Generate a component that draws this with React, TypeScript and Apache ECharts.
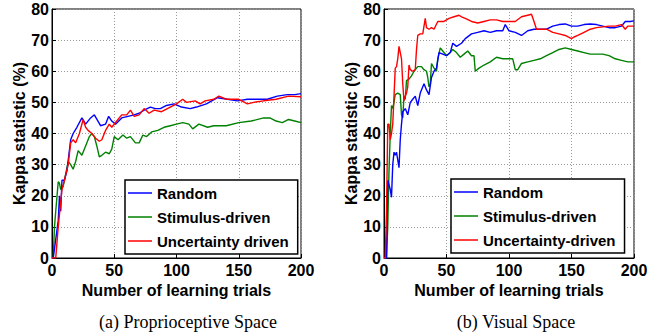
import React, { useEffect, useRef } from "react";
import * as echarts from "echarts";

// ---------- (a) Proprioceptive Space ----------
const propRandomX = [0, 1, 3, 5, 6, 7, 8, 10, 12, 15, 17, 20, 24, 27, 31, 34, 39, 43, 45.5, 48, 51, 56, 61, 66, 70, 74, 79, 83, 87, 92, 98, 104, 111, 116, 124, 133, 141, 149, 157, 165, 173, 181, 189, 195, 200];
const propRandomY = [0, 0, 6, 12, 20, 15, 25, 25, 28, 38, 40, 42, 45, 43, 45, 46, 42.5, 43, 45.5, 44, 43, 45, 45.5, 46, 46.5, 47.5, 48.5, 48, 48, 49, 49.5, 48.5, 48, 48.5, 49.5, 51.5, 51, 50.5, 51, 51, 51, 52, 52.5, 52.5, 52.8];

const propStimX = [0, 1, 2, 3, 5, 6, 7, 9, 11, 13, 15, 17, 19, 21, 24, 27, 30, 32, 34, 36, 38, 40, 43, 46, 48, 50, 53, 57, 60, 63, 67, 70, 73, 76, 80, 85, 90, 95, 100, 105, 110, 113, 118, 125, 130, 140, 150, 160, 170, 175, 180, 185, 190, 195, 200];
const propStimY = [0, 0, 10, 15, 24.5, 24, 22, 23, 27, 31, 30, 28.5, 31, 34.5, 33, 36, 39, 40, 39, 36, 32.5, 33, 34, 33.5, 35, 39, 38, 39.5, 38.5, 39, 37, 37, 39.5, 39, 40.5, 41, 42, 42.5, 43, 43.5, 43, 41.5, 43, 42, 42.5, 42.5, 43.5, 44, 45, 45, 44, 43.5, 44.5, 44, 43.5];

const propUncX = [0, 3, 5, 8, 10, 13, 15, 17, 19, 22, 25, 27, 29, 32, 35, 38, 40, 43, 46, 48, 52, 56, 60, 63, 66, 70, 74, 78, 82, 88, 95, 100, 105, 108, 115, 119, 123, 130, 134, 140, 150, 157, 162, 170, 180, 190, 200];
const propUncY = [0, 0, 10, 22, 25, 30, 37, 38, 37, 40, 44.5, 42, 41, 40, 38.5, 37.5, 38, 41, 43, 42, 44, 46, 46, 47.5, 45.5, 46, 48, 46.5, 47.5, 47, 48.5, 49.5, 51, 50, 50.5, 49.5, 50.5, 51, 52, 51, 51, 49.5, 50, 50.5, 51, 52, 51.8];

// ---------- (b) Visual Space ----------
const visRandomX = [0, 2, 3, 5, 6, 7, 8, 9, 10, 12, 13, 14, 15, 17, 19, 21, 23, 25, 27, 29, 32, 34, 36, 38, 40, 42, 44, 47, 50, 53, 55, 58, 62, 65, 70, 75, 80, 85, 90, 95, 97, 100, 105, 110, 115, 120, 125, 130, 135, 140, 145, 150, 155, 160, 165, 170, 175, 180, 185, 190, 193, 197, 200];
const visRandomY = [0, 0, 25, 22, 19.5, 30, 34, 33, 34, 29, 38, 43, 47, 48, 46, 50, 51, 52, 49, 53, 56, 54, 52.5, 58, 60, 61, 66, 65.5, 65, 66, 69, 68, 69, 70.5, 72, 72.5, 73, 72.5, 73, 73, 75, 73, 72.5, 71.5, 73, 73.5, 73.5, 73.5, 74.5, 75, 75.2, 74.5, 74.5, 75, 75.2, 75, 74.5, 74, 74, 74.5, 76, 76, 76.2];

const visStimX = [0, 2, 3, 4, 5, 6, 7, 8, 9, 11, 13, 14, 15, 16, 17, 18, 20, 22, 24, 27, 30, 32, 34, 35, 36, 37, 38, 40, 42, 43, 45, 47, 50, 53, 55, 58, 61, 64, 67, 70, 72, 73, 76, 80, 85, 90, 95, 100, 103, 105, 107, 110, 115, 120, 125, 130, 135, 140, 145, 150, 155, 160, 165, 170, 175, 180, 185, 190, 195, 200];
const visStimY = [0, 0, 10, 28, 40, 49, 48, 50, 52.5, 53, 52.5, 46, 45, 52, 51, 57, 57.5, 58.5, 60, 61.5, 61.5, 60.5, 60, 58, 55, 56, 62.5, 61, 60, 64, 67.5, 66.5, 65, 66, 67, 66, 64.5, 65.5, 66.5, 65, 65, 60, 61, 62, 63, 64.5, 64, 64, 64, 60.5, 60.5, 62.5, 63, 63.5, 64, 65, 66, 67, 67.5, 67, 66.5, 66, 65.5, 65.5, 65.5, 65, 64, 63.5, 63, 63];

const visUncX = [0, 1, 2, 3, 4, 5, 6, 7, 8, 9, 10, 11, 12, 13, 14, 15, 16, 17, 18, 19, 20, 21, 23, 25, 26, 27, 29, 31, 33, 34, 36, 38, 40, 43, 46, 48, 52, 56, 60, 62, 65, 70, 75, 80, 85, 90, 95, 100, 105, 110, 115, 118, 120, 122, 125, 130, 135, 140, 145, 150, 152, 155, 160, 165, 170, 180, 185, 190, 193, 195, 200];
const visUncY = [0, 0, 15, 43, 43, 38, 40, 43, 52, 61, 61.5, 64, 68, 66, 64, 56, 50.5, 52, 53, 55, 62, 60.5, 60, 60.5, 67, 71.5, 72, 72, 77, 74, 73.5, 74, 73.5, 76, 76, 76, 77, 77.5, 78, 77.5, 77, 76, 75.5, 76, 76.5, 76.5, 76, 76, 76, 77.5, 78, 78.3, 76, 73.5, 73.5, 73.5, 72.5, 72, 71.5, 70.5, 71, 71.5, 72.5, 73.5, 74, 74.5, 74.5, 75, 73.5, 74.5, 74.5];

const xTicks = [0, 50, 100, 150, 200];
const yTicks = [0, 10, 20, 30, 40, 50, 60, 70, 80];
const seriesNames = ["Random", "Stimulus-driven", "Uncertainty driven"];
const seriesNamesB = ["Random", "Stimulus-driven", "Uncertainty-driven"];
const colors = ["#0000ff", "#008000", "#ff0000"];
const captions = ["(a) Proprioceptive Space", "(b) Visual Space"];

const zip = (xs: number[], ys: number[]) => xs.map((x, i) => [x, ys[i]]);

const FONT = "Liberation Sans";

export default function App() {
  const ref = useRef<HTMLDivElement>(null);
  useEffect(() => {
    if (!ref.current) return;
    const chart = echarts.init(ref.current, undefined, { renderer: "svg" });
    const grids = [
      { left: 52, top: 9, width: 249, height: 249 },
      { left: 384, top: 9, width: 250, height: 249 },
    ];
    const xAxes = grids.map((_, i) => ({
      type: "value",
      gridIndex: i,
      min: xTicks[0],
      max: xTicks[xTicks.length - 1],
      interval: 50,
      name: "Number of learning trials",
      nameLocation: "middle",
      nameGap: 19,
      nameTextStyle: { fontFamily: FONT, fontWeight: "bold", fontSize: 16, color: "#000" },
      axisLine: { show: true, lineStyle: { color: "#000", width: 1 } },
      axisTick: { show: true, inside: true, length: 4, lineStyle: { color: "#000" } },
      axisLabel: { fontFamily: FONT, fontWeight: "bold", fontSize: 16, color: "#000", margin: 4 },
      splitLine: { show: true, lineStyle: { color: "#9a9a9a", type: [1, 2], width: 1 } },
    }));
    const yAxes = grids.map((_, i) => ({
      type: "value",
      gridIndex: i,
      min: yTicks[0],
      max: yTicks[yTicks.length - 1],
      interval: 10,
      name: "Kappa statistic (%)",
      nameLocation: "middle",
      nameGap: 24,
      nameTextStyle: { fontFamily: FONT, fontWeight: "bold", fontSize: 16, color: "#000" },
      axisLine: { show: true, lineStyle: { color: "#000", width: 1 } },
      axisTick: { show: true, inside: true, length: 4, lineStyle: { color: "#000" } },
      axisLabel: { fontFamily: FONT, fontWeight: "bold", fontSize: 16, color: "#000", margin: 3 },
      splitLine: { show: true, lineStyle: { color: "#9a9a9a", type: [1, 2], width: 1 } },
    }));
    const mk = (name: string, data: number[][], gi: number, ci: number) => ({
      type: "line",
      name,
      data,
      xAxisIndex: gi,
      yAxisIndex: gi,
      symbol: "none",
      showSymbol: false,
      lineStyle: { color: colors[ci], width: 1.4 },
      itemStyle: { color: colors[ci] },
      z: ci === 0 ? 3 : ci === 1 ? 2 : 4,
    });
    const series = [
      mk(seriesNames[0], zip(propRandomX, propRandomY), 0, 0),
      mk(seriesNames[1], zip(propStimX, propStimY), 0, 1),
      mk(seriesNames[2], zip(propUncX, propUncY), 0, 2),
      mk(seriesNamesB[0] + " ", zip(visRandomX, visRandomY), 1, 0),
      mk(seriesNamesB[1] + " ", zip(visStimX, visStimY), 1, 1),
      mk(seriesNamesB[2], zip(visUncX, visUncY), 1, 2),
    ];
    const legendBase = {
      orient: "vertical",
      backgroundColor: "#fff",
      borderColor: "#000",
      borderWidth: 1.5,
      borderRadius: 0,
      padding: [4, 9, 4, 3],
      itemGap: 6,
      itemWidth: 24,
      itemHeight: 1.5,
      icon: "rect",
      textStyle: { fontFamily: FONT, fontWeight: "bold", fontSize: 15, color: "#000", lineHeight: 18 },
      selectedMode: false,
    };
    chart.setOption({
      animation: false,
      backgroundColor: "#fff",
      grid: grids.map((g) => ({ ...g, show: true, borderColor: "#000", borderWidth: 1, backgroundColor: "transparent" })),
      xAxis: xAxes,
      yAxis: yAxes,
      legend: [
        { ...legendBase, left: 125, top: 180, data: [seriesNames[0], seriesNames[1], seriesNames[2]] },
        { ...legendBase, left: 451, top: 179, data: [seriesNamesB[0] + " ", seriesNamesB[1] + " ", seriesNamesB[2]] },
      ],
      series,
      graphic: [
        {
          type: "text",
          x: 188,
          y: 322,
          style: { text: captions[0], font: '18px "Liberation Serif"', fill: "#000", align: "center", verticalAlign: "middle" },
        },
        {
          type: "text",
          x: 516,
          y: 322,
          style: { text: captions[1], font: '18px "Liberation Serif"', fill: "#000", align: "center", verticalAlign: "middle" },
        },
      ],
    });
    return () => chart.dispose();
  }, []);
  return (
    <div
      ref={ref}
      style={{ position: "absolute", left: 0, top: 0, width: 658, height: 336 }}
    />
  );
}
